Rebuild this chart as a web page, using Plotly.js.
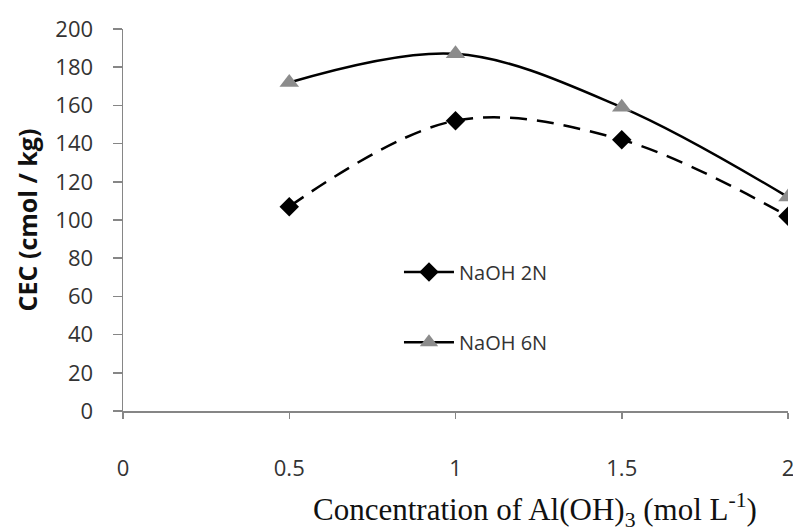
<!DOCTYPE html>
<html>
<head>
<meta charset="utf-8">
<script src="https://cdn.plot.ly/plotly-3.0.1.min.js"></script>
<style>html,body{margin:0;padding:0;background:#fff;}#chart{width:793px;height:531px;}</style>
</head>
<body>
<div id="chart"></div>
<script>
const concentration = [0.5, 1, 1.5, 2];
const naoh2N = [107, 152, 142, 102];
const naoh6N = [172, 187, 159, 112];
const seriesNames = ["NaOH 2N", "NaOH 6N"];
const xTicks = [0, 0.5, 1, 1.5, 2];
const yTicks = [0, 20, 40, 60, 80, 100, 120, 140, 160, 180, 200];

const sansFam = "Open Sans, Liberation Sans, sans-serif";
function tickFont() { return {family: sansFam, size: 22, color: "#333"}; }
function legendCfg(yPos) {
  return {x: 0.415, y: yPos, xanchor: "left", yanchor: "middle", bgcolor: "rgba(0,0,0,0)",
          itemwidth: 50, font: {family: sansFam, size: 20, color: "#333"}};
}

const traces = [
  {x: concentration, y: naoh2N, name: seriesNames[0], mode: "lines+markers", showlegend: false,
   line: {color: "#000", width: 2.5, shape: "spline", smoothing: 1, dash: "17px,10px"},
   marker: {symbol: "diamond", size: 15, color: "#000"}},
  {x: concentration, y: naoh6N, name: seriesNames[1], mode: "lines+markers", showlegend: false,
   line: {color: "#000", width: 2.5, shape: "spline", smoothing: 1},
   marker: {symbol: "triangle-up", size: 17, color: "#8c8c8c"}},
  {x: [null], y: [null], name: seriesNames[0], mode: "lines+markers", legend: "legend",
   line: {color: "#000", width: 2.5}, marker: {symbol: "diamond", size: 15, color: "#000"}},
  {x: [null], y: [null], name: seriesNames[1], mode: "lines+markers", legend: "legend2",
   line: {color: "#000", width: 2.5}, marker: {symbol: "triangle-up", size: 17, color: "#8c8c8c"}}
];

const layout = {
  width: 793, height: 531,
  margin: {l: 123, r: 5, t: 29, b: 120},
  paper_bgcolor: "#fff", plot_bgcolor: "#fff",
  showlegend: true,
  legend: legendCfg(0.364),
  legend2: legendCfg(0.18),
  xaxis: {range: [0, 2], tickvals: xTicks, ticktext: xTicks.map(String),
          showgrid: false, zeroline: false, showline: true, linecolor: "#868686", linewidth: 1.5,
          ticks: "outside", ticklen: 6, tickcolor: "#868686", tickwidth: 1.5,
          ticklabelstandoff: 31, ticklabeloverflow: "allow", tickfont: tickFont(), fixedrange: true},
  yaxis: {range: [0, 200], tickvals: yTicks, ticktext: yTicks.map(String),
          showgrid: false, zeroline: false, showline: true, linecolor: "#868686", linewidth: 1.5,
          ticks: "outside", ticklen: 9, tickcolor: "#868686", tickwidth: 1.5,
          ticklabelstandoff: 15, ticklabeloverflow: "allow", tickfont: tickFont(),
          title: {text: "<b>CEC (cmol / kg)</b>", standoff: 10,
                  font: {family: sansFam, size: 25, color: "#111"}}},
  annotations: [{
    text: "Concentration of Al(OH)<sub>3</sub> (mol L<sup>-1</sup>)",
    xref: "paper", yref: "paper", x: 0.62, y: -0.26, xanchor: "center", yanchor: "middle",
    showarrow: false, font: {family: "Liberation Serif, DejaVu Serif, serif", size: 31, color: "#111"}
  }]
};

Plotly.newPlot("chart", traces, layout, {displayModeBar: false, staticPlot: true});
</script>
</body>
</html>
